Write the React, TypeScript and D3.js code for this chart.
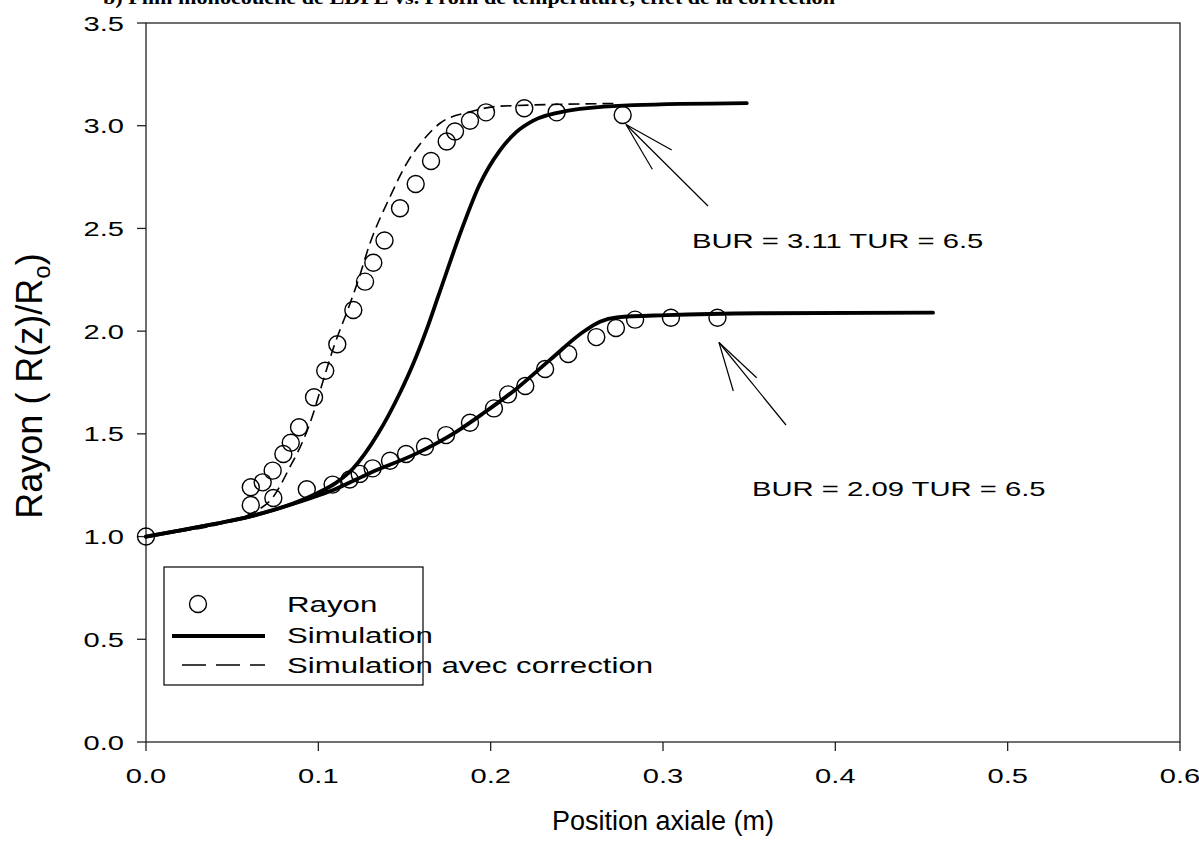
import React from "react";
import * as d3 from "d3";

const xTicks = [0, 0.1, 0.2, 0.3, 0.4, 0.5, 0.6];
const yTicks = [0, 0.5, 1.0, 1.5, 2.0, 2.5, 3.0, 3.5];

// Measured radius, BUR = 3.11
const rayonHigh: [number, number][] = [
  [0, 1.0], [0.0608, 1.154], [0.0608, 1.24], [0.0677, 1.264], [0.0739, 1.188],
  [0.0735, 1.321], [0.0797, 1.402], [0.084, 1.457], [0.0888, 1.532], [0.0975, 1.678],
  [0.104, 1.807], [0.111, 1.936], [0.1203, 2.103], [0.1271, 2.241], [0.1319, 2.333],
  [0.1384, 2.441], [0.1474, 2.598], [0.1565, 2.716], [0.1654, 2.828], [0.1745, 2.923],
  [0.1793, 2.972], [0.188, 3.024], [0.1973, 3.065], [0.2195, 3.085], [0.2383, 3.065],
  [0.2766, 3.052],
];

// Measured radius, BUR = 2.09
const rayonLow: [number, number][] = [
  [0.0933, 1.23], [0.1083, 1.253], [0.1182, 1.278], [0.124, 1.305], [0.1315, 1.332],
  [0.1416, 1.369], [0.1509, 1.402], [0.1619, 1.437], [0.1741, 1.494], [0.188, 1.554],
  [0.2019, 1.624], [0.2101, 1.692], [0.2201, 1.733], [0.2316, 1.816], [0.245, 1.889],
  [0.2613, 1.971], [0.2727, 2.015], [0.2838, 2.056], [0.3046, 2.065], [0.3316, 2.065],
];

const simHigh: [number, number][] = [
  [0, 1.0], [0.02, 1.03], [0.04, 1.062], [0.06, 1.097], [0.08, 1.145], [0.099, 1.21],
  [0.11, 1.26], [0.12, 1.33], [0.1346, 1.5], [0.1474, 1.7], [0.155, 1.84], [0.1625, 2.0],
  [0.17, 2.18], [0.1834, 2.5], [0.1934, 2.71], [0.2054, 2.88], [0.215, 2.97],
  [0.2247, 3.025], [0.2441, 3.072], [0.2828, 3.1], [0.3486, 3.11],
];

const simLow: [number, number][] = [
  [0, 1.0], [0.02, 1.03], [0.04, 1.062], [0.06, 1.097], [0.08, 1.145], [0.1, 1.2],
  [0.1087, 1.227], [0.13, 1.31], [0.1571, 1.405], [0.18, 1.51], [0.1957, 1.6],
  [0.215, 1.72], [0.2344, 1.86], [0.2538, 1.997], [0.2634, 2.046], [0.2731, 2.067],
  [0.3021, 2.078], [0.3563, 2.087], [0.4567, 2.09],
];

const simCorr: [number, number][] = [
  [0, 1.0], [0.02, 1.025], [0.04, 1.055], [0.055, 1.09], [0.0632, 1.121], [0.0739, 1.194],
  [0.0836, 1.34], [0.0913, 1.47], [0.0971, 1.6], [0.1, 1.681], [0.1097, 1.941],
  [0.1174, 2.111], [0.1232, 2.249], [0.13, 2.428], [0.1416, 2.654], [0.1513, 2.817],
  [0.1609, 2.93], [0.1706, 3.012], [0.188, 3.068], [0.2054, 3.095], [0.2712, 3.108],
];

const annotationLabels = ["BUR = 3.11 TUR = 6.5", "BUR = 2.09 TUR = 6.5"];
const legendItems = ["Rayon", "Simulation", "Simulation avec correction"];

const SX = 1.42; // horizontal stretch of the original's text

export default function App() {
  const left = 146, right = 1180, top = 23, bottom = 742;
  const x = d3.scaleLinear().domain([0, 0.6]).range([left, right]);
  const y = d3.scaleLinear().domain([0, 3.5]).range([bottom, top]);
  const line = d3
    .line<[number, number]>()
    .x((d) => x(d[0]))
    .y((d) => y(d[1]))
    .curve(d3.curveMonotoneX);
  const font = "Arial, 'Liberation Sans', sans-serif";
  const r = 8.5;

  const arrowGeom = [
    { tip: [626, 124.5], end: [708, 206], h1: [671.7, 150], h2: [652.3, 169.3], text: [692, 248] },
    { tip: [719, 342.5], end: [786, 425], h1: [756.7, 377.7], h2: [733.3, 391], text: [752, 496] },
  ];

  return (
    <div style={{ position: "absolute", left: 0, top: 0 }}>
      <svg width={1199} height={862} style={{ display: "block", background: "#fff" }}>
        <text
          x={103}
          y={4}
          fontFamily="'Liberation Serif', 'Times New Roman', serif"
          fontWeight="bold"
          fontSize={18}
          textLength={732}
          lengthAdjust="spacingAndGlyphs"
        >
          b) Film monocouche de LDPE vs. Profil de température, effet de la correction
        </text>

        {/* frame */}
        <rect x={left} y={top} width={right - left} height={bottom - top} fill="none" stroke="#222" strokeWidth={1.3} />

        {/* y axis ticks */}
        {yTicks.map((t) => (
          <g key={"y" + t}>
            <line x1={left - 9} x2={left} y1={y(t)} y2={y(t)} stroke="#222" strokeWidth={1.3} />
            <text
              transform={`translate(124, ${y(t) + 7.5}) scale(${SX},1)`}
              textAnchor="end"
              fontFamily={font}
              fontSize={20.5}
            >
              {t.toFixed(1)}
            </text>
          </g>
        ))}
        {/* x axis ticks */}
        {xTicks.map((t) => (
          <g key={"x" + t}>
            <line x1={x(t)} x2={x(t)} y1={bottom} y2={bottom + 9} stroke="#222" strokeWidth={1.3} />
            <text
              transform={`translate(${x(t)}, ${bottom + 41}) scale(${SX},1)`}
              textAnchor="middle"
              fontFamily={font}
              fontSize={20.5}
            >
              {t.toFixed(1)}
            </text>
          </g>
        ))}

        <text x={663} y={830} textAnchor="middle" fontFamily={font} fontSize={27}>
          Position axiale (m)
        </text>
        <text
          transform={`translate(42, 386) rotate(-90)`}
          textAnchor="middle"
          fontFamily={font}
          fontSize={36}
        >
          Rayon ( R(z)/R
          <tspan fontSize={24} dy={8}>o</tspan>
          <tspan dy={-8}>)</tspan>
        </text>

        {/* lines */}
        <path d={line(simCorr) || ""} fill="none" stroke="#000" strokeWidth={1.6} strokeDasharray="11,6" />
        <path d={line(simLow) || ""} fill="none" stroke="#000" strokeWidth={3.8} strokeLinecap="round" />
        <path d={line(simHigh) || ""} fill="none" stroke="#000" strokeWidth={3.8} strokeLinecap="round" />

        {/* points */}
        {[...rayonHigh, ...rayonLow].map((d, i) => (
          <circle key={i} cx={x(d[0])} cy={y(d[1])} r={r} fill="none" stroke="#000" strokeWidth={1.4} />
        ))}

        {/* annotations */}
        {annotationLabels.map((label, i) => {
          const g = arrowGeom[i];
          return (
            <g key={"a" + i} stroke="#000" strokeWidth={1.2}>
              <line x1={g.tip[0]} y1={g.tip[1]} x2={g.end[0]} y2={g.end[1]} />
              <line x1={g.tip[0]} y1={g.tip[1]} x2={g.h1[0]} y2={g.h1[1]} />
              <line x1={g.tip[0]} y1={g.tip[1]} x2={g.h2[0]} y2={g.h2[1]} />
              <text
                transform={`translate(${g.text[0]}, ${g.text[1]}) scale(${SX},1)`}
                stroke="none"
                fontFamily={font}
                fontSize={20.6}
              >
                {label}
              </text>
            </g>
          );
        })}

        {/* legend */}
        <g>
          <rect x={164} y={567} width={259} height={118} fill="#fff" stroke="#000" strokeWidth={1.2} />
          <circle cx={198} cy={604} r={r} fill="none" stroke="#000" strokeWidth={1.4} />
          <line x1={172} x2={265} y1={636} y2={636} stroke="#000" strokeWidth={3.8} />
          <line x1={182} x2={265} y1={665} y2={665} stroke="#000" strokeWidth={1.6} strokeDasharray="24,10" />
          {legendItems.map((t, i) => (
            <text
              key={t}
              transform={`translate(287, ${612 + i * 30.5}) scale(${SX},1)`}
              fontFamily={font}
              fontSize={22}
            >
              {t}
            </text>
          ))}
        </g>
      </svg>
    </div>
  );
}
